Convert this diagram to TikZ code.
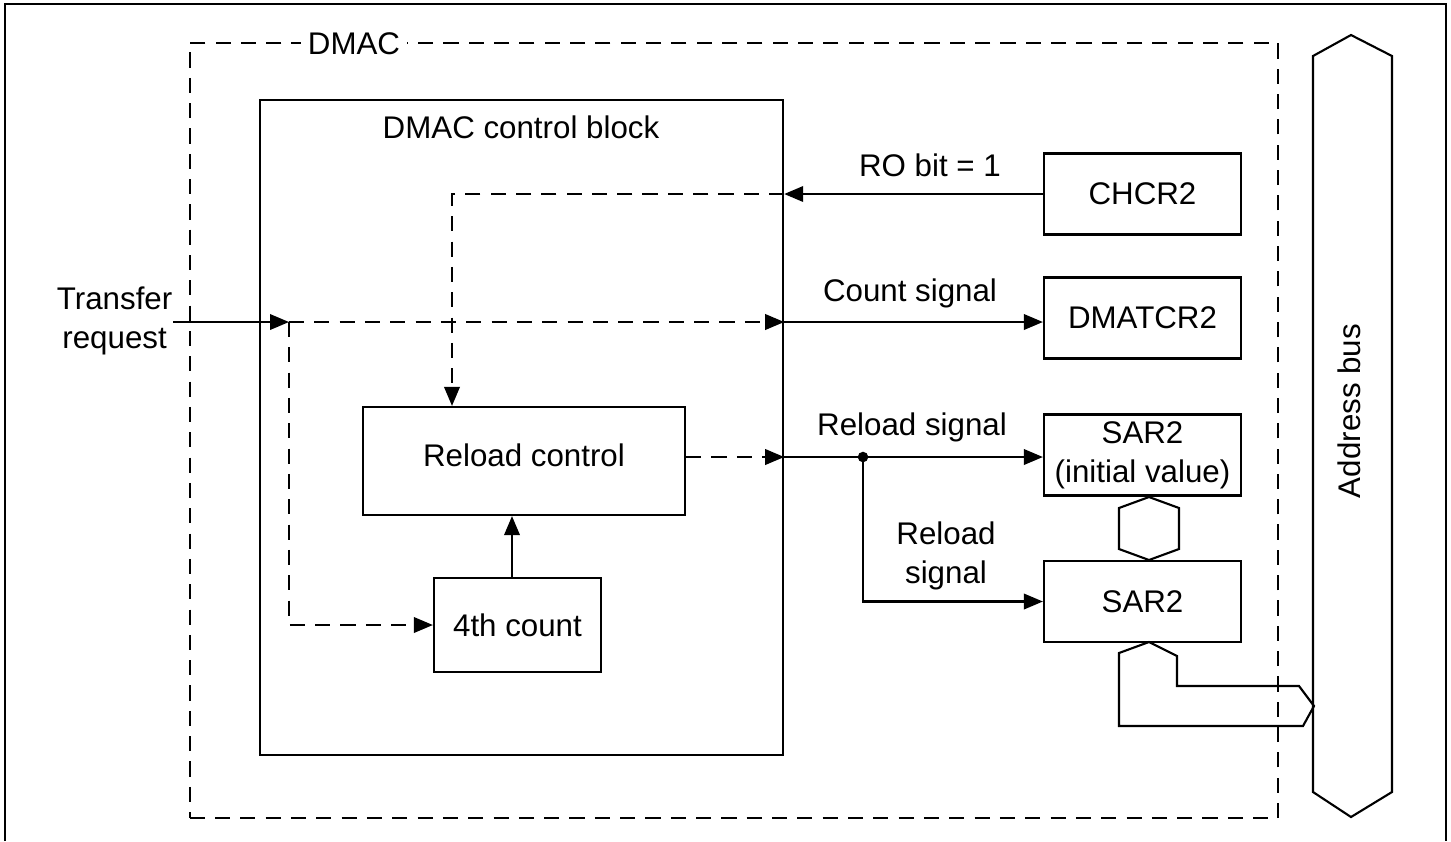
\documentclass[tikz,border=0pt]{standalone}
\usepackage{fontspec}
\setmainfont{Liberation Sans}
\usetikzlibrary{arrows.meta, positioning, calc}
\tikzset{
  box/.style={rectangle, draw, line width=0.6pt, inner sep=0pt, align=center},
  regbox/.style={box, minimum width=1.97cm, minimum height=0.81cm},
  sig/.style={-{Triangle[length=5.4pt, width=4.4pt]}, line width=0.6pt},
  dsig/.style={sig, dash pattern=on 4.3pt off 2.9pt},
  line/.style={line width=0.6pt},
  dline/.style={line, dash pattern=on 4.3pt off 2.9pt},
  lbl/.style={inner sep=0pt, align=center}
}

\begin{document}
\begin{tikzpicture}[x=0.01cm, y=-0.01cm, font=\fontsize{8.9}{11.1}\selectfont]
  \useasboundingbox (0,0) rectangle (1451,841);
  % frame
  \draw[line width=0.5pt] (5,841) -- (5,4) -- (1446,4) -- (1446,841);

  % DMAC and control block
  \node[box, dline, minimum width=10.88cm, minimum height=7.75cm] (dmac) at (734,430.5) {};
  \node[lbl, fill=white, inner xsep=2pt, inner ysep=1pt] (dmactitle) at (354,44) {DMAC};
  \node[box, minimum width=5.23cm, minimum height=6.55cm] (ctrl) at (521.5,427.5) {};
  \node[lbl] (ctrltitle) at (521,127) {DMAC control block};
  \node[box, minimum width=3.22cm, minimum height=1.08cm, text depth=0.12cm] (reload) at (524,461) {Reload control};
  \node[box, minimum width=1.67cm, minimum height=0.94cm] (count4) at (517.5,625) {4th count};

  % registers
  \node[regbox] (chcr) at (1142.5,194) {CHCR2};
  \node[regbox] (dmatcr) at (1142.5,318) {DMATCR2};
  \node[regbox] (sarinit) at (1142.5,455) {SAR2\\(initial value)};
  \node[regbox] (sar) at (1142.5,601.5) {SAR2};

  % transfer request
  \node[lbl, anchor=east] (treq) at (173,321) {Transfer\\request};
  \coordinate (tin) at (289,322);
  \draw[sig] (treq.east |- tin) -- (tin);
  \draw[dsig] (tin) -- (ctrl.east |- tin);
  \draw[sig] (ctrl.east |- tin) -- (dmatcr.west |- tin);
  \draw[dsig] (tin) -- (tin |- count4.west) -- (count4.west);

  % RO bit
  \coordinate (rodn) at (452,194);
  \draw[sig] (chcr.west) -- (ctrl.east |- chcr.west);
  \draw[dsig] (ctrl.east |- chcr.west) -- (rodn) -- (rodn |- reload.north);

  \coordinate (cup) at (512,578);
  \draw[sig] (cup) -- (cup |- reload.south);

  % reload
  \coordinate (rout) at (reload.east |- 0,457);
  \coordinate (rdot) at (863,457);
  \draw[dsig] (rout) -- (ctrl.east |- rout);
  \draw[sig] (ctrl.east |- rout) -- (sarinit.west |- rout);
  \fill (rdot) circle (1.5pt);
  \draw[sig] (rdot) -- (rdot |- sar.west) -- (sar.west);

  % labels
  \node[lbl] (robit) at (930,165) {RO bit = 1};
  \node[lbl] (cntsig) at (910,293) {Count signal};
  \node[lbl] (rldsig) at (912,427) {Reload signal};
  \node[lbl] (rldsig2) at (946,556) {Reload\\signal};

  % buses
  \draw[line] (1149,497) -- (1179,508) -- (1179,549) -- (1149,560) -- (1119,549) -- (1119,508) -- cycle;
  \draw[line] (1149,642) -- (1119,653) -- (1119,726) -- (1303,726) -- (1314,706) -- (1299,686)
    -- (1177,686) -- (1177,656) -- cycle;
  \draw[line] (1313,56) -- (1351,35) -- (1392,56) -- (1392,792) -- (1351,817) -- (1313,792) -- cycle;
  \node[lbl, rotate=90] (abus) at (1349,411) {Address bus};
\end{tikzpicture}
\end{document}
